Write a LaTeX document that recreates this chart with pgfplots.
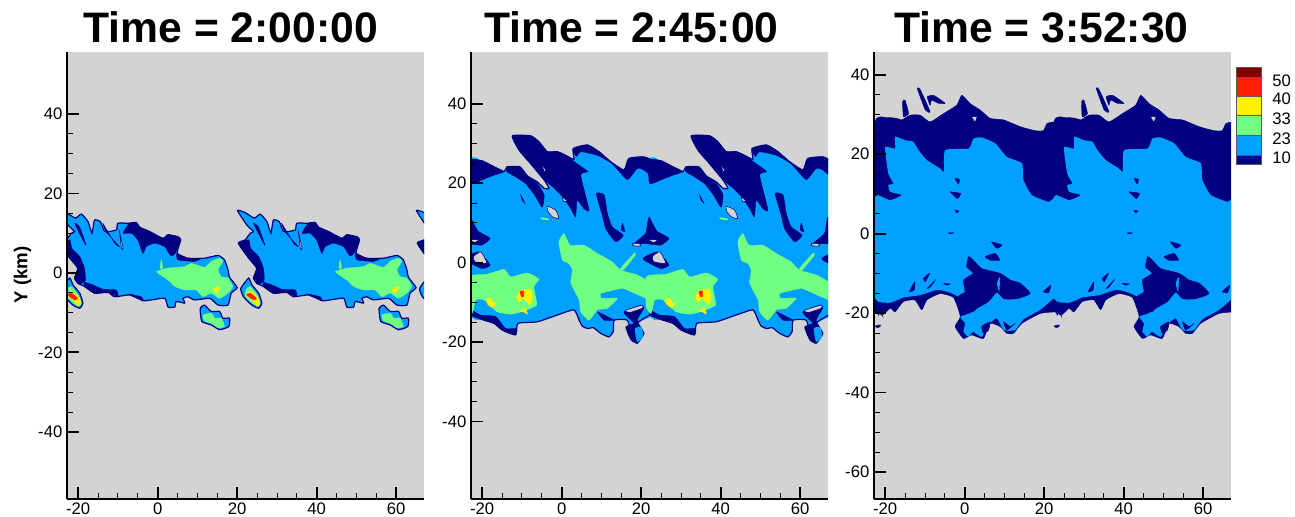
\documentclass[border=0pt]{standalone}
\usepackage{pgfplots}
\usepackage{pgfplotstable}
\usepackage{fontspec}
\setmainfont{Liberation Sans}
\pgfplotsset{compat=1.18}
\definecolor{bg}{HTML}{D3D3D3}
\definecolor{cn}{HTML}{000080}
\definecolor{cb}{HTML}{00A0FF}
\definecolor{cg}{HTML}{70FF80}
\definecolor{cy}{HTML}{FFF000}
\definecolor{cr}{HTML}{FF2000}
\definecolor{cd}{HTML}{800000}
% ---- panel 1 (one period, 45 km)
\pgfplotstableread[row sep=\\]{x y\\20.1 15.7\\22.0 15.2\\24.3 13.8\\25.8 14.8\\27.5 12.9\\28.5 10.0\\29.1 13.3\\30.6 12.9\\31.7 10.4\\34.6 10.8\\35.0 12.5\\37.9 12.5\\39.6 12.7\\40.5 11.5\\43.0 10.4\\46.3 8.7\\47.6 9.6\\50.1 9.1\\50.8 8.3\\49.9 4.9\\52.6 3.7\\56.8 3.7\\60.2 4.4\\61.8 3.3\\62.7 0.8\\63.1 -1.1\\65.0 -3.7\\63.5 -5.1\\62.7 -8.1\\60.2 -8.1\\58.1 -6.4\\54.3 -6.8\\52.6 -6.0\\51.4 -6.4\\51.8 -7.6\\49.7 -7.2\\49.3 -8.6\\47.6 -8.6\\46.8 -6.4\\43.4 -6.8\\41.3 -7.0\\38.4 -5.5\\34.2 -6.0\\32.5 -4.9\\29.1 -5.1\\26.6 -3.4\\24.9 -2.6\\24.1 -1.3\\24.9 1.2\\22.9 3.7\\20.3 7.5\\22.0 8.3\\23.3 10.0\\24.1 10.4\\22.4 12.1\\}\aO
\pgfplotstableread[row sep=\\]{x y\\36.3 10.0\\37.9 12.5\\39.6 12.7\\40.5 11.5\\43.0 10.4\\46.3 8.7\\47.6 9.6\\50.1 9.1\\50.8 8.3\\49.4 4.9\\48.3 4.3\\46.8 6.6\\44.2 7.5\\42.1 6.6\\41.3 4.9\\40.0 8.3\\38.4 10.0\\}\aNa
\pgfplotstableread[row sep=\\]{x y\\49.9 4.9\\52.6 3.7\\56.0 3.7\\54.3 2.9\\50.1 3.3\\}\aNb
\pgfplotstableread[row sep=\\]{x y\\20.3 7.5\\22.9 8.3\\23.4 6.2\\25.4 4.1\\26.6 1.2\\26.8 -1.9\\25.4 -2.8\\24.1 -1.3\\24.9 1.2\\22.9 3.7\\}\aNc
\pgfplotstableread[row sep=\\]{x y\\26.6 -2.4\\28.7 -3.0\\31.2 -4.1\\34.6 -4.3\\35.0 -6.0\\32.5 -4.9\\29.1 -5.1\\26.6 -3.4\\}\aNd
\pgfplotstableread[row sep=\\]{x y\\37.5 -5.3\\40.9 -6.0\\41.3 -7.0\\38.4 -5.8\\}\aNe
\pgfplotstableread[row sep=\\]{x y\\24.1 12.5\\25.4 11.5\\27.0 7.0\\26.2 8.3\\}\aNf
\pgfplotstableread[row sep=\\]{x y\\31.2 12.5\\32.0 10.4\\35.4 6.6\\34.2 7.5\\}\aNg
\pgfplotstableread[row sep=\\]{x y\\35.4 10.4\\36.3 6.2\\35.9 6.2\\}\aHa
\pgfplotstableread[row sep=\\]{x y\\44.7 0.3\\47.6 1.2\\51.8 1.6\\53.5 2.4\\56.8 1.4\\58.5 2.9\\60.6 3.7\\61.4 2.9\\60.2 0.8\\61.0 -0.9\\62.7 -1.3\\63.9 -3.4\\62.7 -5.1\\60.6 -6.4\\58.5 -5.1\\56.4 -6.0\\54.7 -4.3\\51.8 -4.3\\49.3 -3.4\\47.6 -1.8\\}\aG
\pgfplotstableread[row sep=\\]{x y\\45.9 3.3\\46.3 1.2\\45.6 1.2\\}\aGb
\pgfplotstableread[row sep=\\]{x y\\58.9 -4.3\\60.6 -3.3\\60.6 -3.8\\59.8 -5.1\\}\aY
\pgfplotstableread[row sep=\\]{x y\\20.9 -3.9\\22.9 -1.3\\23.7 -3.0\\25.4 -5.1\\26.2 -7.6\\25.4 -8.9\\23.7 -8.1\\21.6 -6.0\\}\bO
\pgfplotstableread[row sep=\\]{x y\\22.3 -4.1\\23.3 -3.4\\25.0 -5.5\\25.8 -7.6\\25.0 -8.4\\23.3 -7.2\\22.0 -5.8\\}\bG
\pgfplotstableread[row sep=\\]{x y\\22.0 -5.3\\23.7 -4.7\\25.4 -6.4\\25.6 -8.1\\24.8 -8.1\\23.7 -6.8\\}\bY
\pgfplotstableread[row sep=\\]{x y\\22.3 -5.5\\23.3 -5.1\\24.9 -6.4\\24.1 -6.8\\}\bR
\pgfplotstableread[row sep=\\]{x y\\55.7 -8.9\\56.8 -8.1\\58.5 -9.7\\60.6 -9.7\\61.4 -11.4\\63.1 -11.4\\62.9 -13.5\\60.6 -14.3\\58.5 -13.1\\56.1 -12.2\\}\cO
\pgfplotstableread[row sep=\\]{x y\\56.4 -10.6\\58.5 -10.1\\59.4 -11.4\\61.0 -11.4\\61.8 -13.5\\60.2 -13.8\\58.5 -12.7\\56.8 -12.1\\}\cG
% ---- panel 2
\pgfplotstableread[row sep=\\]{x y\\-22.9 25.8\\-20.0 25.6\\-17.4 24.3\\-14.5 22.9\\-13.7 24.1\\-10.5 24.1\\-8.6 21.8\\-6.1 20.3\\-4.4 18.7\\-3.2 18.7\\-4.4 20.8\\-7.8 24.9\\-10.7 28.3\\-12.4 31.9\\-7.8 31.9\\-5.7 30.4\\-3.6 27.9\\-1.1 27.9\\1.0 27.0\\3.1 26.0\\2.9 28.7\\6.5 29.6\\9.4 27.9\\12.3 25.4\\15.7 23.3\\16.9 26.2\\20.7 26.6\\22.6 25.8\\23.5 25.6\\23.5 5\\23.5 -13.9\\22.6 -13.6\\19.0 -15.3\\20.7 -17.8\\19.0 -20.3\\17.8 -18.7\\16.5 -14.5\\13.2 -14.5\\13.0 -17.3\\11.9 -18.7\\9.8 -17.8\\8.0 -16.4\\6.5 -16.6\\5.2 -16.0\\4.4 -14.5\\3.1 -11.9\\-1.1 -13.2\\-6.1 -14.9\\-11.0 -15.3\\-11.6 -18.2\\-14.9 -17.0\\-17.0 -15.3\\-19.5 -14.5\\-22.9 -13.2\\-22.9 5\\}\dO
\pgfplotstableread[row sep=\\]{x y\\-22.9 25.8\\-20.0 25.6\\-17.4 24.3\\-14.5 22.9\\-13.7 24.1\\-10.5 24.1\\-8.6 21.8\\-6.1 20.3\\-4.4 18.7\\-3.2 18.7\\-4.4 20.8\\-7.8 24.9\\-10.7 28.3\\-12.4 31.9\\-7.8 31.9\\-5.7 30.4\\-3.6 27.9\\-1.1 27.9\\1.0 27.0\\3.1 26.0\\2.9 28.7\\6.5 29.6\\9.4 27.9\\12.3 25.4\\15.7 23.3\\16.9 26.2\\20.7 26.6\\22.1 25.8\\}\dT
\pgfplotstableread[row sep=\\]{x y\\22.1 -13.2\\19.0 -15.3\\20.7 -17.8\\19.0 -20.3\\17.8 -18.7\\16.5 -14.5\\13.2 -14.5\\13.0 -17.3\\11.9 -18.7\\9.8 -17.8\\8.0 -16.4\\6.5 -16.6\\5.2 -16.0\\4.4 -14.5\\3.1 -11.9\\-1.1 -13.2\\-6.1 -14.9\\-11.0 -15.3\\-11.6 -18.2\\-14.9 -17.0\\-17.0 -15.3\\-19.5 -14.5\\-22.9 -13.2\\}\dU
\pgfplotstableread[row sep=\\]{x y\\-22.9 25.8\\-20.0 25.6\\-17.4 24.3\\-14.5 22.9\\-17.0 22.0\\-19.1 21.2\\-22.9 19.9\\}\dNa
\pgfplotstableread[row sep=\\]{x y\\-13.7 24.1\\-10.5 24.1\\-8.6 21.8\\-6.1 19.9\\-4.4 17.0\\-4.9 13.9\\-6.8 17.0\\-9.1 19.9\\-11.6 21.6\\-13.8 22.9\\}\dNb
\pgfplotstableread[row sep=\\]{x y\\-12.4 31.9\\-7.8 31.9\\-5.7 30.4\\-3.6 27.9\\-1.1 27.9\\1.0 27.0\\4.4 24.5\\6.6 22.9\\4.8 22.0\\6.9 13.2\\5.6 13.6\\3.9 15.7\\3.5 11.5\\2.3 13.6\\0.2 16.6\\-2.3 19.1\\-4.4 20.8\\-7.8 24.9\\-10.7 28.3\\}\dNc
\pgfplotstableread[row sep=\\]{x y\\2.9 28.7\\6.5 29.6\\9.4 27.9\\12.3 25.4\\15.7 23.3\\16.9 26.2\\20.7 26.6\\22.6 25.8\\22.6 21.9\\20.7 23.3\\19.0 23.7\\16.5 20.9\\12.7 24.9\\9.0 27.0\\4.8 27.9\\3.7 26.7\\}\dNd
\pgfplotstableread[row sep=\\]{x y\\8.7 17.4\\10.7 17.0\\11.5 12.4\\12.7 9.0\\15.5 6.9\\13.6 5.2\\11.1 8.5\\10.2 12.0\\}\dNe
\pgfplotstableread[row sep=\\]{x y\\22.0 11.5\\23.1 9.4\\24.1 7.8\\27.0 6.1\\24.9 4.4\\20.7 4.8\\17.8 4.4\\21.1 7.3\\21.6 9.9\\}\dNf
\pgfplotstableread[row sep=\\]{x y\\20.7 1.3\\24.1 2.7\\27.0 -0.6\\24.9 -1.5\\20.7 0.6\\}\dNg
\pgfplotstableread[row sep=\\]{x y\\-10.3 17.0\\-9.2 14.9\\-9.9 15.7\\}\dNh
\pgfplotstableread[row sep=\\]{x y\\15.3 9.9\\15.9 7.8\\15.0 8.2\\}\dNi
\pgfplotstableread[row sep=\\]{x y\\-22.9 -13.2\\-19.5 -14.5\\-17.0 -15.3\\-14.9 -17.0\\-11.6 -18.2\\-11.3 -16.6\\-14.1 -16.6\\-16.6 -13.6\\-20.4 -13.2\\-22.7 -12.0\\}\dNj
\pgfplotstableread[row sep=\\]{x y\\15.7 -12.4\\19.9 -10.7\\20.7 -11.5\\19.0 -14.5\\20.7 -17.8\\19.0 -20.3\\17.4 -19.5\\16.1 -16.2\\18.2 -15.3\\16.5 -13.6\\}\dNk
\pgfplotstableread[row sep=\\]{x y\\9.0 -12.4\\11.5 -13.6\\13.2 -14.5\\10.7 -14.5\\}\dNl
\pgfplotstableread[row sep=\\]{x y\\18.4 -16.6\\20.1 -16.2\\20.5 -18.7\\19.0 -20.0\\}\dBa
\pgfplotstableread[row sep=\\]{x y\\-3.6 14.2\\-1.5 13.2\\-0.7 11.1\\-2.3 11.5\\-3.4 12.8\\}\dHa
\pgfplotstableread[row sep=\\]{x y\\22.8 1.5\\24.7 2.7\\26.2 -0.2\\23.2 0.2\\}\dHb
\pgfplotstableread[row sep=\\]{x y\\17.8 4.8\\19.5 4.8\\19.9 4.2\\18.2 4.2\\}\dHc
\pgfplotstableread[row sep=\\]{x y\\22.0 5.7\\24.1 5.8\\23.2 5.0\\}\dHd
\pgfplotstableread[row sep=\\]{x y\\-4.9 24.5\\-4.0 23.3\\-4.4 22.9\\}\dHe
\pgfplotstableread[row sep=\\]{x y\\0.2 16.4\\1.4 15.6\\0.6 15.3\\}\dHf
\pgfplotstableread[row sep=\\]{x y\\16.1 -12.0\\20.3 -10.7\\20.3 -11.5\\17.0 -12.6\\}\dHg
\pgfplotstableread[row sep=\\]{x y\\0.6 7.3\\2.1 4.4\\5.6 4.4\\9.0 2.3\\12.7 0.2\\14.8 -1.9\\19.0 -3.1\\22.4 -5.2\\22.6 -9.4\\17.4 -7.3\\15.3 -6.5\\11.5 -7.3\\9.8 -7.8\\10.0 -9.0\\14.0 -9.0\\11.5 -11.5\\9.0 -11.9\\6.9 -14.5\\4.8 -12.4\\4.4 -9.4\\2.3 -5.2\\2.7 -1.9\\1.8 -0.2\\0.2 0.6\\-0.7 5.2\\}\dGa
\pgfplotstableread[row sep=\\]{x y\\-23.7 -3.6\\-18.7 -2.9\\-14.5 -1.7\\-12.8 -3.6\\-8.6 -2.6\\-5.7 -4.2\\-7.0 -6.1\\-6.3 -10.7\\-10.3 -12.4\\-12.8 -13.0\\-16.2 -12.4\\-19.5 -9.4\\-21.6 -9.4\\-22.5 -12.8\\-23.7 -11.1\\}\dGb
\pgfplotstableread[row sep=\\]{x y\\14.8 -1.5\\18.2 2.3\\18.6 1.9\\15.5 -1.9\\}\dGc
\pgfplotstableread[row sep=\\]{x y\\-5.3 11.3\\-3.6 11.1\\-3.2 10.7\\-4.9 10.9\\}\dGd
\pgfplotstableread[row sep=\\]{x y\\-11.3 -8.6\\-10.3 -6.9\\-7.8 -6.8\\-7.4 -8.6\\-8.0 -10.7\\-9.5 -9.0\\-10.7 -9.9\\}\dYa
\pgfplotstableread[row sep=\\]{x y\\-18.9 -9.0\\-17.9 -9.0\\-17.0 -10.3\\-16.2 -9.9\\-17.4 -11.3\\-18.6 -10.5\\}\dYb
\pgfplotstableread[row sep=\\]{x y\\-10.7 -12.4\\-9.1 -11.5\\-8.6 -13.0\\-9.6 -12.4\\}\dYc
\pgfplotstableread[row sep=\\]{x y\\-10.5 -7.3\\-9.6 -7.1\\-9.6 -8.6\\-10.1 -8.6\\}\dR
% ---- panel 3
\pgfplotstableread[row sep=\\]{x y\\-22.5 28.1\\-19.6 29.2\\-17.1 29.0\\-15.8 28.6\\-13.7 29.8\\-11.2 29.8\\-8.7 28.1\\-5.3 30.2\\-2.0 32.3\\-0.7 34.8\\1.4 32.7\\3.9 31.1\\6.4 29.0\\9.8 28.6\\14.0 26.9\\17.7 25.9\\19.8 25.9\\20.7 27.7\\22.5 28.1\\23.5 28.1\\23.5 5\\23.5 -19.7\\22.8 -19.7\\19.0 -20.1\\14.4 -22.6\\12.3 -25.1\\10.6 -25.1\\8.9 -23.4\\6.4 -22.6\\4.7 -26.4\\1.8 -25.5\\-0.3 -26.4\\-2.4 -23.4\\-1.1 -20.9\\-2.8 -16.1\\-6.2 -15.1\\-9.5 -16.7\\-10.8 -19.2\\-12.5 -16.7\\-15.4 -17.1\\-17.5 -19.7\\-18.7 -18.8\\-20.8 -20.5\\-22.5 -17.6\\-22.5 5\\}\eO
\pgfplotstableread[row sep=\\]{x y\\-22.5 9.3\\-18.7 8.4\\-15.8 9.7\\-18.7 10.5\\-19.2 12.2\\-17.9 12.6\\-19.2 15.1\\-20.0 21.7\\-17.5 21.4\\-17.5 24.4\\-15.0 23.5\\-12.9 23.1\\-11.6 21.0\\-9.5 18.5\\-6.2 16.4\\-5.2 15.6\\-4.9 21.0\\1.0 21.4\\2.2 23.9\\4.3 24.2\\7.7 22.7\\10.6 19.3\\14.4 17.7\\14.8 13.5\\16.9 9.7\\21.1 8.0\\22.8 9.3\\23.5 9.3\\23.5 -3\\23.5 -16.0\\22.8 -16.0\\19.0 -19.2\\14.8 -21.6\\12.7 -24.3\\9.8 -24.3\\8.1 -21.3\\6.0 -23.0\\4.3 -26.0\\2.1 -24.7\\1.0 -26.0\\-0.3 -24.7\\0.1 -22.6\\-1.1 -20.9\\1.8 -19.7\\-1.6 -15.9\\-4.5 -14.6\\-7.0 -14.2\\-11.2 -15.5\\-15.4 -16.1\\-18.7 -17.4\\-22.5 -16.4\\-22.5 -3\\}\eB
\pgfplotstableread[row sep=\\]{x y\\1.0 -5.8\\2.2 -6.7\\4.3 -8.8\\8.9 -10.0\\11.5 -11.7\\14.0 -12.5\\16.5 -15.1\\13.1 -16.4\\9.8 -16.4\\8.1 -14.7\\6.0 -17.1\\3.1 -18.8\\1.8 -19.7\\-1.6 -15.9\\0.1 -14.7\\-0.3 -11.7\\2.2 -10.0\\0.5 -8.4\\}\eNa
\pgfplotstableread[row sep=\\]{x y\\8.1 -12.5\\8.9 -10.9\\8.7 -14.7\\}\eBa
\pgfplotstableread[row sep=\\]{x y\\6.8 -2.1\\9.4 -2.9\\8.1 -3.7\\}\eNb
\pgfplotstableread[row sep=\\]{x y\\5.2 -5.8\\7.7 -5.0\\8.8 -6.7\\6.4 -6.7\\}\eNc
\pgfplotstableread[row sep=\\]{x y\\-2.4 13.9\\-1.3 13.6\\-1.6 12.5\\}\eNd
\pgfplotstableread[row sep=\\]{x y\\-3.6 10.5\\-1.0 10.1\\-1.8 8.8\\-2.8 9.7\\}\eNe
\pgfplotstableread[row sep=\\]{x y\\-2.4 5.9\\-1.4 5.7\\-2.0 5.2\\}\eNf
\pgfplotstableread[row sep=\\]{x y\\-4.1 0.2\\-2.8 0.2\\-3.6 -0.1\\}\eNg
\pgfplotstableread[row sep=\\]{x y\\-13.9 -14.6\\-12.5 -12.1\\-12.7 -14.2\\}\eNh
\pgfplotstableread[row sep=\\]{x y\\-10.4 -11.3\\-8.8 -10.0\\-9.9 -12.1\\}\eNi
\pgfplotstableread[row sep=\\]{x y\\-9.4 -13.8\\-7.4 -11.7\\-8.7 -13.5\\}\eNj
\pgfplotstableread[row sep=\\]{x y\\-5.3 -12.5\\-3.6 -12.7\\-4.5 -13.0\\}\eNk
\pgfplotstableread[row sep=\\]{x y\\19.8 -14.6\\21.7 -13.0\\21.1 -14.9\\}\eNl
\pgfplotstableread[row sep=\\]{x y\\22.3 -17.1\\24.4 -20.9\\23.6 -18.8\\}\eNm
\pgfplotstableread[row sep=\\]{x y\\-22.5 -23.3\\-21.3 -23.0\\-22.1 -23.6\\}\eNn
\pgfplotstableread[row sep=\\]{x y\\22.8 -23.2\\23.9 -23.2\\23.2 -23.7\\}\eNo
\pgfplotstableread[row sep=\\]{x y\\4.3 -23.4\\6.4 -22.2\\6.0 -24.3\\4.7 -25.1\\}\eNp
\pgfplotstableread[row sep=\\]{x y\\9.8 -22.2\\11.4 -23.4\\12.7 -22.6\\10.6 -24.3\\}\eNq
\pgfplotstableread[row sep=\\]{x y\\-15.6 33.2\\-15.0 33.6\\-14.1 30.2\\-15.4 29.4\\}\eNr
\pgfplotstableread[row sep=\\]{x y\\-11.9 36.5\\-11.2 36.3\\-8.7 30.7\\-9.9 31.1\\}\eNs
\pgfplotstableread[row sep=\\]{x y\\-9.4 34.4\\-7.8 34.8\\-4.9 32.8\\-6.6 32.8\\-8.3 33.6\\-8.7 32.3\\}\eNt
\pgfplotstableread[row sep=\\]{x y\\1.8 29.4\\3.1 29.4\\2.6 28.1\\}\eHa
% helper: one period drawn at -45, 0 and +45 km
\newcommand\poly[2]{%
  \addplot[#1] table[x expr=\thisrow{x}-45,y=y] {#2};
  \addplot[#1] table[x=x,y=y] {#2};
  \addplot[#1] table[x expr=\thisrow{x}+45,y=y] {#2};
}
\tikzset{
  sc/.style={smooth cycle,tension=0.3},
  fb/.style={sc,fill=cb,draw=cn,line width=0.9pt},
  fn/.style={sc,fill=cn,draw=cn,line width=0.3pt},
  fm/.style={sc,fill=cb,draw=none},
  fg/.style={sc,fill=cg,draw=cg,line width=0.2pt},
  fy/.style={sc,fill=cy,draw=cy,line width=0.2pt},
  fr/.style={sc,fill=cr,draw=cr,line width=0.2pt},
  fh/.style={sc,fill=bg,draw=cn,line width=0.4pt},
  ln/.style={smooth,tension=0.3,draw=cn,line width=0.9pt},
}
\pgfplotsset{panel/.style={
  scale only axis,width=267.75pt,height=335.25pt,
  axis background/.style={fill=bg},
  axis on top,
  axis x line*=bottom,axis y line*=left,
  axis line style={line width=1.8pt,-},
  xmin=-22.8,xmax=67,
  xtick={-20,0,20,40,60},xticklabels={-20,0,20,40,60},
  minor x tick num=3,minor y tick num=3,
  major tick length=9pt,minor tick length=4.5pt,
  tick align=inside,
  every major tick/.append style={line width=1.4pt,black},
  every minor tick/.append style={line width=0.6pt,black},
  tick label style={font=\fontsize{12.5}{14}\selectfont,black},
  xticklabel style={yshift=0.5pt},
}}
\begin{document}
\begin{tikzpicture}[x=1pt,y=1pt]
\useasboundingbox (0,0) rectangle (971.25pt,387.75pt);
% ---- Panel 1
\begin{axis}[panel,at={(50.25pt,13.5pt)},anchor=south west,ymin=-56.9,ymax=55.6,
  ytick={-40,-20,0,20,40},yticklabels={-40,-20,0,20,40}]
\poly{fb}{\aO}
\poly{fn}{\aNa}\poly{fn}{\aNb}\poly{fn}{\aNc}\poly{fn}{\aNd}\poly{fn}{\aNe}\poly{fn}{\aNf}\poly{fn}{\aNg}\poly{fh}{\aHa}
\poly{fg}{\aG}\poly{fg}{\aGb}\poly{fy}{\aY}
\poly{fb}{\bO}\poly{fg}{\bG}\poly{fy}{\bY}\poly{fr}{\bR}
\poly{fb}{\cO}\poly{fg}{\cG}
\end{axis}
% ---- Panel 2
\begin{axis}[panel,at={(353.25pt,13.5pt)},anchor=south west,ymin=-59.5,ymax=53,
  ytick={-40,-20,0,20,40},yticklabels={-40,-20,0,20,40}]
\poly{fm}{\dO}\poly{ln}{\dT}\poly{ln}{\dU}
\poly{fn}{\dNa}\poly{fn}{\dNb}\poly{fn}{\dNc}\poly{fn}{\dNd}\poly{fn}{\dNe}\poly{fn}{\dNf}\poly{fn}{\dNg}\poly{fn}{\dNh}\poly{fn}{\dNi}\poly{fn}{\dNj}\poly{fn}{\dNk}\poly{fn}{\dNl}
\poly{fm}{\dBa}
\poly{fh}{\dHa}\poly{fh}{\dHb}\poly{fh}{\dHc}\poly{fh}{\dHd}\poly{fh}{\dHe}\poly{fh}{\dHf}\poly{fh}{\dHg}
\poly{fg}{\dGa}\poly{fg}{\dGb}\poly{fg}{\dGc}\poly{fg}{\dGd}
\poly{fy}{\dYa}\poly{fy}{\dYb}\poly{fy}{\dYc}\poly{fr}{\dR}
\end{axis}
% ---- Panel 3
\begin{axis}[panel,at={(655.5pt,13.5pt)},anchor=south west,ymin=-66.8,ymax=45.7,
  ytick={-60,-40,-20,0,20,40},yticklabels={-60,-40,-20,0,20,40}]
\poly{fn}{\eO}
\poly{fm}{\eB}
\poly{fn}{\eNa}\poly{fm}{\eBa}
\poly{fn}{\eNb}\poly{fn}{\eNc}\poly{fn}{\eNd}\poly{fn}{\eNe}\poly{fn}{\eNf}\poly{fn}{\eNg}\poly{fn}{\eNh}\poly{fn}{\eNi}\poly{fn}{\eNj}\poly{fn}{\eNk}\poly{fn}{\eNl}\poly{fn}{\eNm}\poly{fn}{\eNn}\poly{fn}{\eNo}\poly{fn}{\eNp}\poly{fn}{\eNq}\poly{fn}{\eNr}\poly{fn}{\eNs}\poly{fn}{\eNt}
\poly{fh}{\eHa}
\end{axis}
% ---- Titles
\foreach \cx/\t in {173pt/2:00:00,473.5pt/2:45:00,781pt/3:52:30}
  \node[font=\fontsize{32}{34}\selectfont\bfseries,anchor=center] at (\cx,367pt) {Time = \t};
\node[font=\fontsize{14}{16}\selectfont\bfseries,rotate=90] at (17pt,181.5pt) {Y (km)};
% ---- Legend (px*0.75)
\begin{scope}[draw=gray!70!black,line width=0.4pt]
\fill[cd] (927pt,337.5pt) rectangle (946pt,330pt);
\fill[cr] (927pt,330pt) rectangle (946pt,315.5pt);
\fill[cy] (927pt,315.5pt) rectangle (946pt,301pt);
\fill[cg] (927pt,301pt) rectangle (946pt,286.5pt);
\fill[cb] (927pt,286.5pt) rectangle (946pt,271.5pt);
\fill[cn] (927pt,271.5pt) rectangle (946pt,264.5pt);
\draw (927pt,337.5pt) rectangle (946pt,264.5pt);
\foreach \yy in {330,315.5,301,286.5,271.5} \draw (927pt,\yy pt) -- (946pt,\yy pt);
\end{scope}
\foreach \yy/\l in {327.3/50,313.3/40,298.8/33,284/23,269.5/10}
  \node[font=\fontsize{12.5}{14}\selectfont,anchor=west,inner sep=0pt] at (954pt,\yy pt) {\l};
\end{tikzpicture}
\end{document}
